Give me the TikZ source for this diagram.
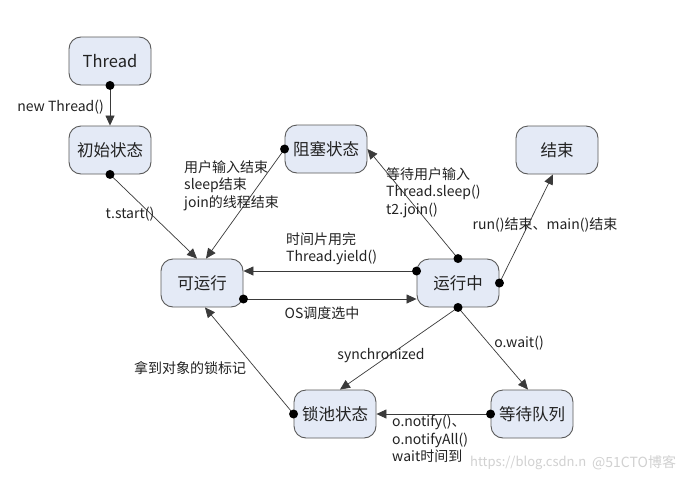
\documentclass[tikz,border=0pt]{standalone}
\usepackage{fontspec}
\setmainfont{Noto Sans CJK SC}
\usetikzlibrary{arrows.meta,calc}
\definecolor{nodefill}{HTML}{E4EAF6}
\definecolor{nodeline}{HTML}{5A5A5A}
\definecolor{edgec}{HTML}{3A3A3A}
\definecolor{txt}{HTML}{222222}
\tikzset{
  state/.style={draw=nodeline, fill=nodefill, line width=0.9pt, rounded corners=12pt,
    minimum width=82pt, minimum height=48pt, inner sep=0pt, font=\fontsize{16.5}{19}\selectfont, text=txt},
  edge/.style={draw=edgec, line width=0.7pt, -{Triangle[length=10pt,width=9pt]}},
  dotc/.style={fill=black},
  lbl/.style={font=\fontsize{14}{17.5}\selectfont, text=txt, inner sep=0pt, align=left},
  wm/.style={font=\fontsize{13}{15}\selectfont, text=black!18, inner sep=0pt}
}
\begin{document}
\begin{tikzpicture}[x=1pt,y=-1pt]
\useasboundingbox (0,0) rectangle (700,482);
\fill[white] (0,0) rectangle (700,482);

\node[state] (thr) at (110,61) {Thread};
\node[state] (init) at (110,150) {初始状态};
\node[state] (blk) at (326,149) {阻塞状态};
\node[state] (fin) at (557,150) {结束};
\node[state] (rbl) at (202,283) {可运行};
\node[state] (run) at (458,283) {运行中};
\node[state] (lock) at (335,414) {锁池状态};
\node[state] (wq) at (532,414) {等待队列};

% edges
\draw[edge] (thr.south) -- (init.north);
\fill[dotc] (thr.south) circle (4.5pt);

\draw[edge] (init.south) -- ($(rbl.north)+(-5,0)$);
\fill[dotc] (init.south) circle (4.5pt);

\draw[edge] (blk.west) -- ($(rbl.north)+(4,0)$);
\fill[dotc] (blk.west) circle (4.5pt);

\draw[edge] (run.north) -- (blk.east);
\fill[dotc] (run.north) circle (4.5pt);

\draw[edge] (run.east) -- ($(fin.south)+(-4,0)$);
\fill[dotc] (run.east) circle (4.5pt);

\draw[edge] ($(run.west)+(0,-12)$) coordinate (ya) -- ($(rbl.east)+(0,-12)$);
\fill[dotc] (ya) circle (4.5pt);

\draw[edge] ($(rbl.east)+(0,16)$) coordinate (os) -- ($(run.west)+(0,16)$);
\fill[dotc] (os) circle (4.5pt);

\draw[edge] (run.south) -- ($(lock.north)+(5,0)$);
\draw[edge] (run.south) -- ($(wq.north)+(-4,0)$);
\fill[dotc] (run.south) circle (4.5pt);

\draw[edge] (wq.west) -- (lock.east);
\fill[dotc] (wq.west) circle (4.5pt);

\draw[edge] (lock.west) -- ($(rbl.south)+(3,0)$);
\fill[dotc] (lock.west) circle (4.5pt);

% labels
\node[lbl, anchor=east] (l1) at (104,107) {new Thread()};
\node[lbl] (l2) at (130,214) {t.start()};
\node[lbl, anchor=north west] (l3) at (184,160) {用户输入结束\\sleep结束\\join的线程结束};
\node[lbl, anchor=north west] (l4) at (386,167) {等待用户输入\\Thread.sleep()\\t2.join()};
\node[lbl] (l5) at (545,225) {run()结束、main()结束};
\node[lbl, anchor=north west] (l6) at (286,232) {时间片用完\\Thread.yield()};
\node[lbl] (l7) at (322,313) {OS调度选中};
\node[lbl] (l8) at (381,356) {synchronized};
\node[lbl] (l9) at (519,343) {o.wait()};
\node[lbl, anchor=north west] (l10) at (392,415) {o.notify()、\\o.notifyAll()\\wait时间到};
\node[lbl] (l11) at (190,368) {拿到对象的锁标记};

% watermark
\node[wm, anchor=west] (w1) at (470,463) {https://blog.csdn.n};
\node[wm, anchor=west, font=\fontsize{14}{16}\selectfont] (w2) at (592,463) {@51CTO博客};
\end{tikzpicture}
\end{document}
